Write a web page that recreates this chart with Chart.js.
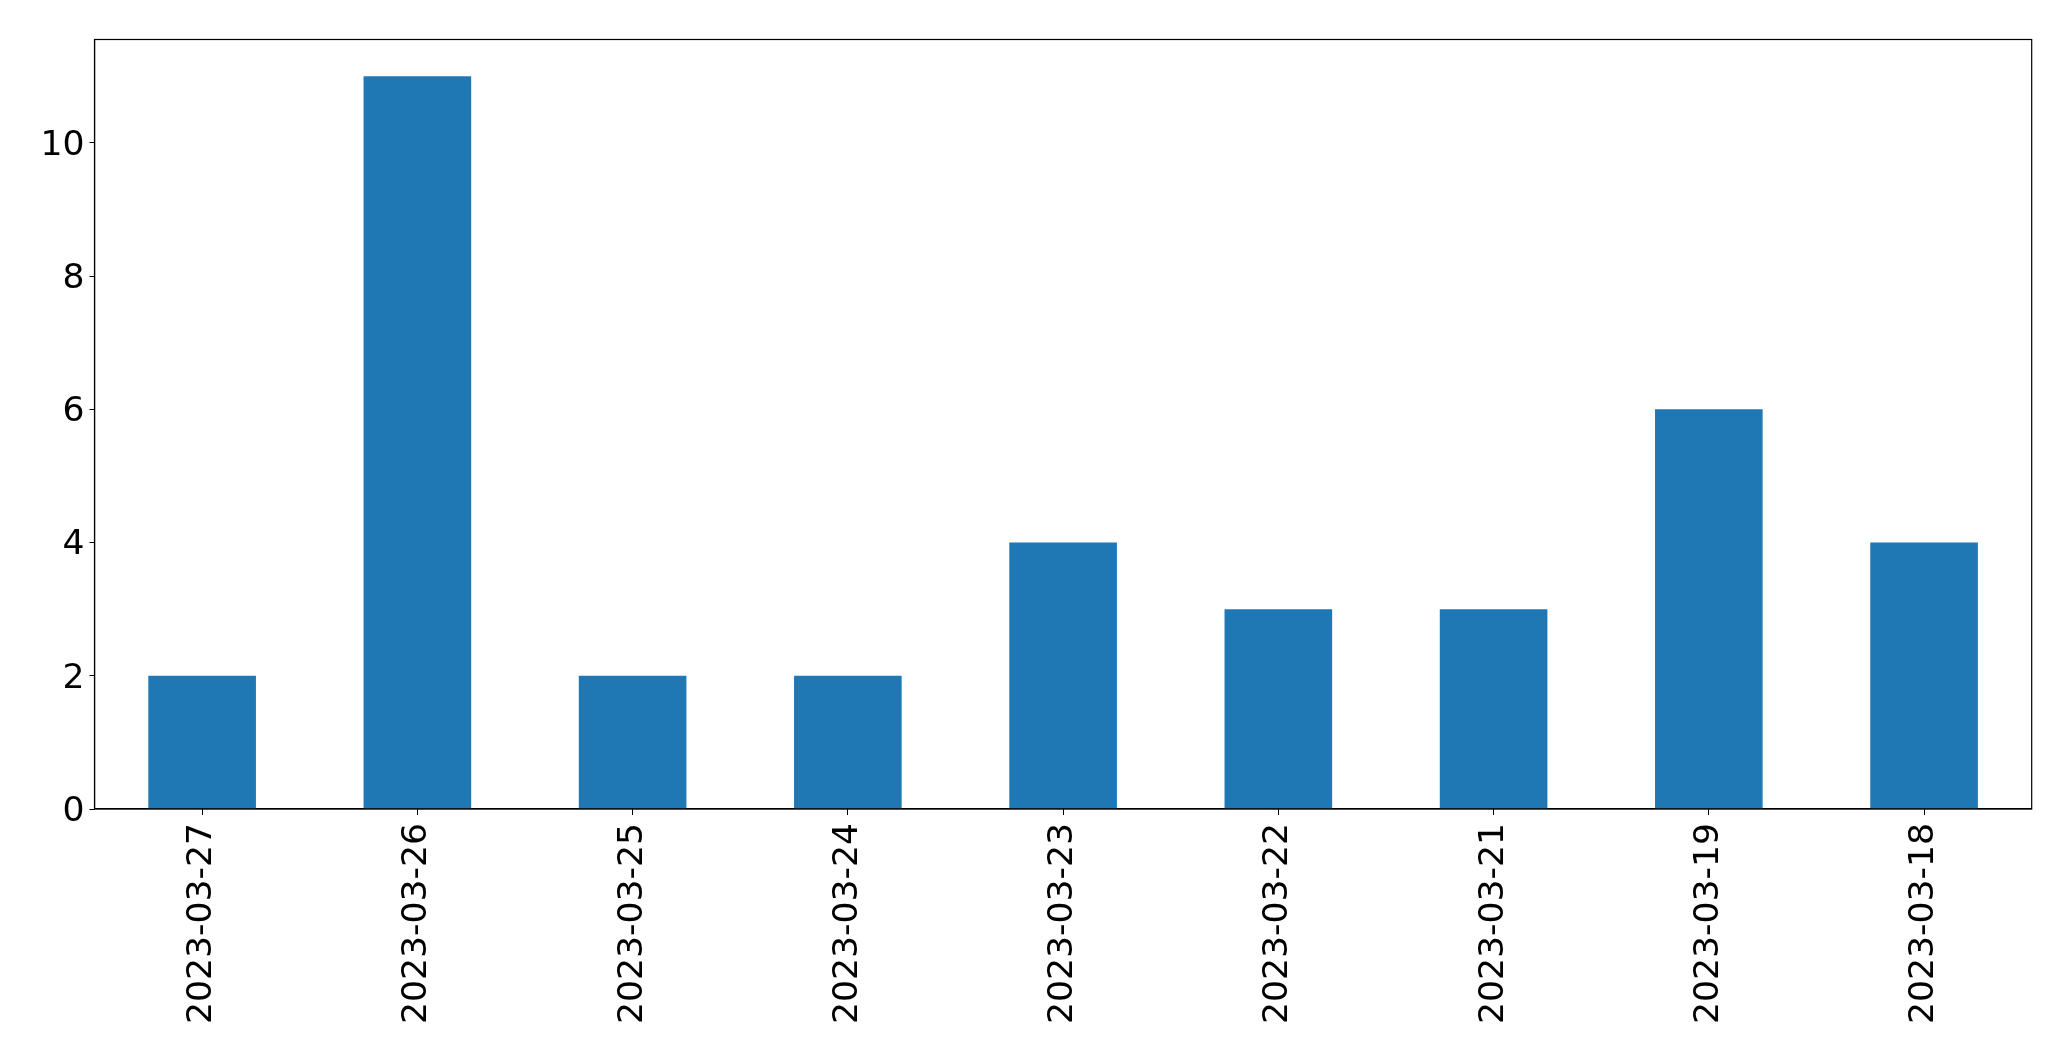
<!DOCTYPE html>
<html>
<head>
<meta charset="utf-8">
<script src="https://cdn.jsdelivr.net/npm/chart.js@4.4.0/dist/chart.umd.min.js"></script>
<style>
  html, body { margin: 0; padding: 0; background: #fff; }
  #wrap { width: 2071px; height: 1061px; }
</style>
</head>
<body>
<div id="wrap"><canvas id="grafica" width="2071" height="1061"></canvas></div>
<script>
const dates = ['2023-03-27', '2023-03-26', '2023-03-25', '2023-03-24', '2023-03-23', '2023-03-22', '2023-03-21', '2023-03-19', '2023-03-18'];
const counts = [2, 11, 2, 2, 4, 3, 3, 6, 4];
const yTicks = [0, 2, 4, 6, 8, 10];
const yMax = 11.55; // 5% de margen sobre el maximo, como matplotlib

// marco negro alrededor del area del grafico
const frame = {
  id: 'frame',
  afterDraw(chart) {
    const { ctx, chartArea: a } = chart;
    ctx.save();
    ctx.strokeStyle = '#000';
    ctx.lineWidth = 1.2;
    ctx.strokeRect(a.left, a.top, a.right - a.left, a.bottom - a.top);
    ctx.restore();
  }
};

const font = { family: 'DejaVu Sans', size: 34.6 };

new Chart(document.getElementById('grafica'), {
  type: 'bar',
  data: {
    labels: dates,
    datasets: [{
      data: counts,
      backgroundColor: '#1f77b4',
      barPercentage: 0.5,
      categoryPercentage: 1.0
    }]
  },
  options: {
    responsive: false,
    devicePixelRatio: 1,
    animation: false,
    layout: { padding: { top: 39.5, right: 39.3, bottom: 0, left: 0 } },
    plugins: { legend: { display: false }, tooltip: { enabled: false } },
    scales: {
      x: {
        grid: { offset: false, drawOnChartArea: false, drawTicks: true, tickLength: 6, color: '#000' },
        border: { display: true, color: '#000', width: 1.2 },
        ticks: { color: '#000', font, maxRotation: 90, minRotation: 90, padding: 8, autoSkip: false },
        afterFit(scale) { scale.height = 252; }
      },
      y: {
        min: 0,
        max: yMax,
        grid: { drawOnChartArea: false, drawTicks: true, tickLength: 5, color: '#000' },
        border: { display: true, color: '#000', width: 1.2 },
        ticks: { color: '#000', font, padding: 5, labelOffset: 3 },
        afterBuildTicks(scale) { scale.ticks = yTicks.map(v => ({ value: v })); },
        afterFit(scale) { scale.width = 94.5; }
      }
    }
  },
  plugins: [frame]
});
</script>
</body>
</html>
